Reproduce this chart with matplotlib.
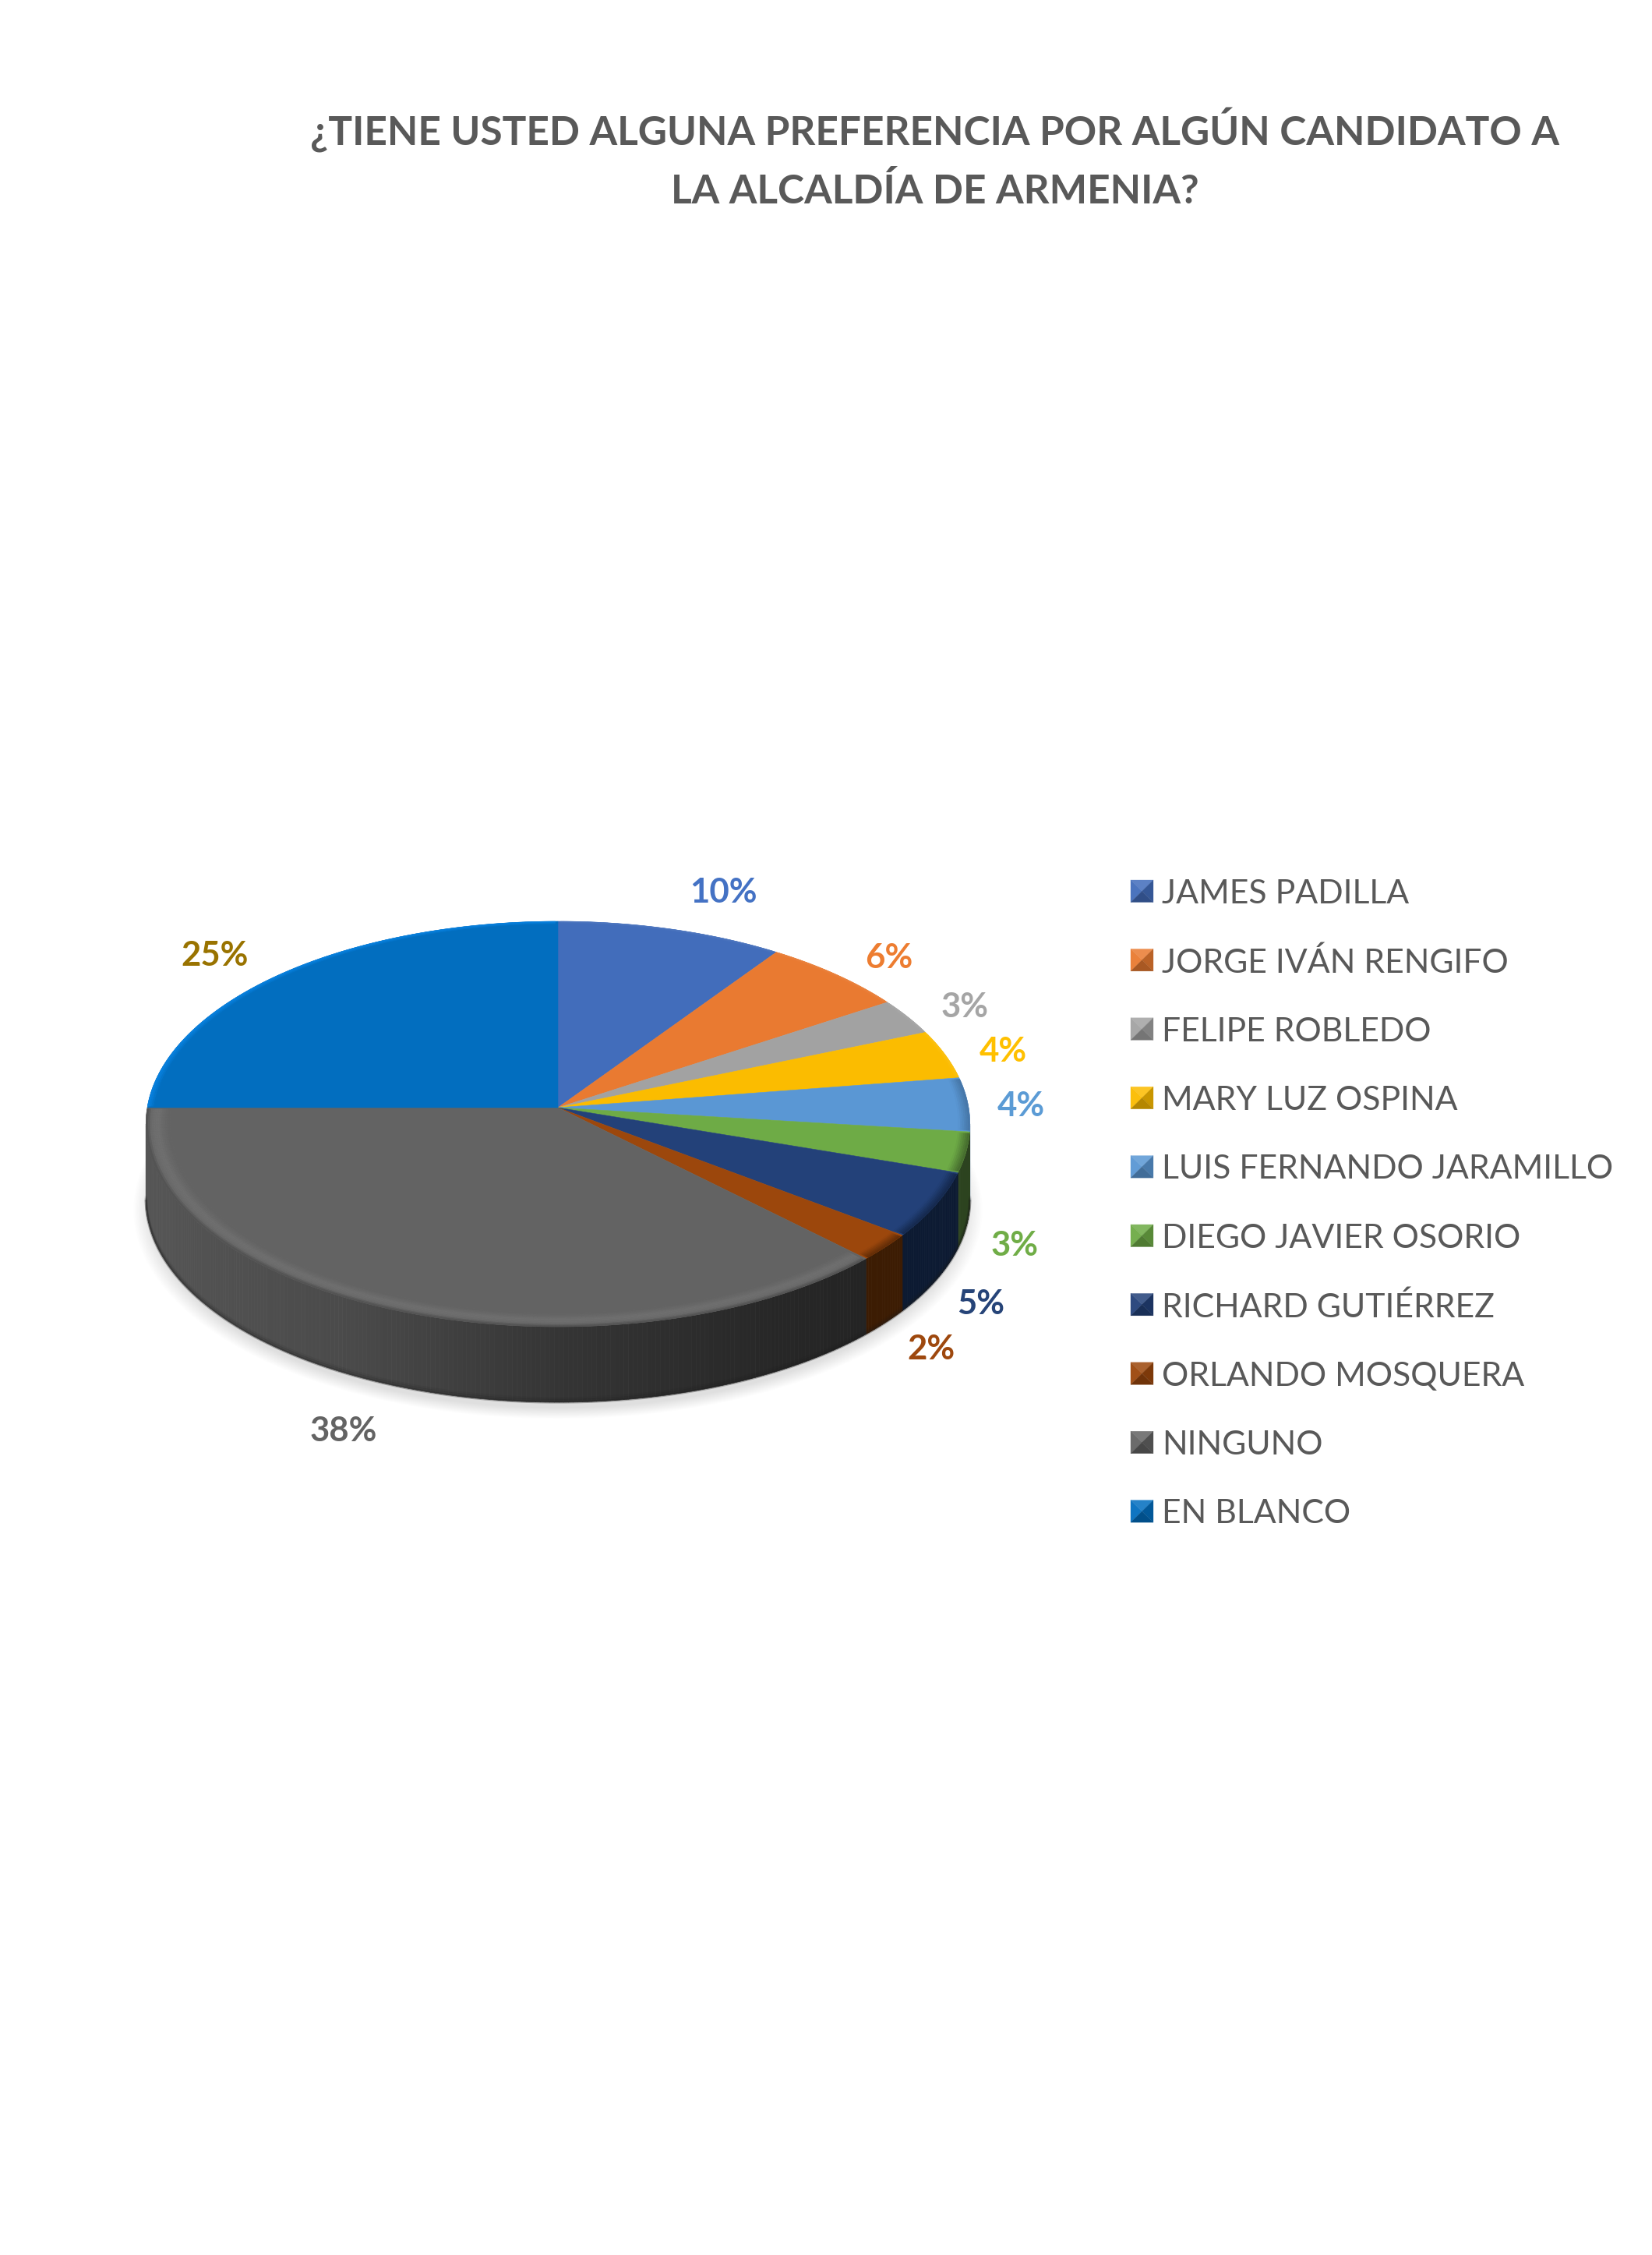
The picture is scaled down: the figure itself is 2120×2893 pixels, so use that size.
import numpy as np
import matplotlib
matplotlib.use("Agg")
import matplotlib.pyplot as plt
from matplotlib.collections import PolyCollection
from matplotlib.colors import to_rgb
from matplotlib.patches import Polygon

# values
candidates = ["JAMES PADILLA", "JORGE IVÁN RENGIFO", "FELIPE ROBLEDO", "MARY LUZ OSPINA",
              "LUIS FERNANDO JARAMILLO", "DIEGO JAVIER OSORIO", "RICHARD GUTIÉRREZ",
              "ORLANDO MOSQUERA", "NINGUNO", "EN BLANCO"]
shares = [9.6, 6.2, 2.9, 3.9, 4.3, 3.2, 5.2, 2.2, 37.5, 25.0]

top_colors = ["#426dbb", "#e97a31", "#a2a2a2", "#fbbc00", "#5a97d4",
              "#6eab46", "#234179", "#9c470c", "#636363", "#026ebf"]
wall_colors = ["#2b4778", "#8f4a1c", "#666666", "#9c7500", "#39618a",
               "#2c431f", "#0c1a32", "#3c1c03", "#3a3a3a", "#014a80"]
label_colors = ["#4472c4", "#ed7d31", "#a5a5a5", "#ffc000", "#5b9bd5",
                "#70ad47", "#264478", "#9e480e", "#636363", "#997300"]
label_pos = [(928, 1145), (1141, 1229), (1238, 1292), (1287, 1349), (1310, 1419),
             (1302, 1598), (1259, 1673), (1195, 1731), (441, 1836), (276, 1226)]

title_lines = ["¿TIENE USTED ALGUNA PREFERENCIA POR ALGÚN CANDIDATO A",
               "LA ALCALDÍA DE ARMENIA?"]
GREY_TEXT = "#595959"

# pie geometry, pixels
cx, cy = 716, 1421
a, b, k = 258.3, 527, 0.0808
depth = 97


def project(t, r=1.0, dz=0.0):
    # t is degrees clockwise from 12 o'clock, with a small perspective
    t = np.radians(t)
    xx = r * np.sin(t)
    yy = r * np.cos(t)
    w = 1 + k * yy
    return cx + b * xx / w, cy - a * yy / w + dz


def mix(c1, c2, f):
    c1, c2 = np.array(to_rgb(c1)), np.array(to_rgb(c2))
    return tuple(np.clip(c1 + (c2 - c1) * f, 0, 1))


def grey_wall(x):
    xs = [187, 450, 716, 1000, 1110]
    vs = [0x55, 0x4a, 0x35, 0x27, 0x24]
    v = np.interp(x, xs, vs) / 255
    return (v, v, v)


plt.rcParams["font.family"] = ["Lato", "DejaVu Sans"]
fig = plt.figure(figsize=(21.2, 28.93), dpi=100, facecolor="white")
ax = fig.add_axes([0, 0, 1, 1])
ax.set_xlim(0, 2120)
ax.set_ylim(2893, 0)
ax.axis("off")

for i, line in enumerate(title_lines):
    ax.text(1200, 187 + 74 * i, line, ha="center", va="baseline", fontsize=37,
            fontweight="bold", color=GREY_TEXT)

# soft shadow under the pie
ts = np.linspace(0, 360, 361)
for r in np.linspace(1.03, 0.985, 16):
    px, py = project(ts, r, depth + 12)
    ax.add_patch(Polygon(np.column_stack([px, py]), closed=True, fc="black", ec="none",
                         alpha=0.008, zorder=1))

edges = np.concatenate([[0], np.cumsum(shares)]) * 3.6
t_right = np.degrees(np.arccos(-k))
t_left = 360 - t_right

# wall
for i in range(len(shares)):
    t0, t1 = max(edges[i], t_right), min(edges[i + 1], t_left)
    if t1 <= t0:
        continue
    n = int(np.ceil((t1 - t0) / 0.6))
    tt = np.linspace(t0, t1, n + 1)
    x0, y0 = project(tt)
    x1, y1 = project(tt, 1.0, depth)
    quads = []
    cols = []
    for j in range(n):
        quads.append([(x0[j], y0[j]), (x0[j + 1], y0[j + 1]), (x1[j + 1], y1[j + 1]), (x1[j], y1[j])])
        if candidates[i] == "NINGUNO":
            cols.append(grey_wall((x0[j] + x0[j + 1]) / 2))
        else:
            cols.append(wall_colors[i])
    ax.add_collection(PolyCollection(quads, facecolors=cols, edgecolors=cols, linewidths=0.5, zorder=2))

# dark lower edge of the wall
tt = np.linspace(t_right, t_left, 300)
for off, al in [(0, 0.3), (2.5, 0.16), (5, 0.08)]:
    x1, y1 = project(tt, 1.0, depth - off)
    ax.plot(x1, y1, color="#1a1a1a", lw=2.4, alpha=al, zorder=3, solid_capstyle="butt")

# top of the pie
for i in range(len(shares)):
    tt = np.linspace(edges[i], edges[i + 1], max(int(edges[i + 1] - edges[i]) * 2, 6))
    px, py = project(tt)
    pts = np.column_stack([np.r_[cx, px], np.r_[cy, py]])
    ax.add_patch(Polygon(pts, closed=True, fc=top_colors[i], ec=top_colors[i], lw=0.4, zorder=4))

# bevel along the rim
rims = np.linspace(0.93, 1.0, 16)
for i in range(len(shares)):
    t0, t1 = edges[i], edges[i + 1]
    tt = np.linspace(t0 + 0.4, t1 - 0.4, max(int(t1 - t0) * 2, 6))
    quads = []
    cols = []
    front = t1 > t_right and t0 < t_left
    for j in range(len(rims) - 1):
        f = (j + 0.5) / (len(rims) - 1)
        if candidates[i] == "NINGUNO":
            c = mix(top_colors[i], "#6f6f6f", np.exp(-((f - 0.62) / 0.26) ** 2))
            if f > 0.84:
                c = mix(c, "#505050", (f - 0.84) / 0.16)
        elif front:
            c = mix(top_colors[i], wall_colors[i], max(0, f - 0.6) * 1.6)
        elif candidates[i] == "EN BLANCO":
            c = mix(top_colors[i], "#0a86e8", max(0, f - 0.75) * 3.5)
        else:
            c = mix(top_colors[i], "#ffffff", max(0, f - 0.85) * 0.5)
        for m in range(len(tt) - 1):
            x0, y0 = project(tt[m:m + 2], rims[j])
            x1, y1 = project(tt[m:m + 2], rims[j + 1])
            quads.append([(x0[0], y0[0]), (x0[1], y0[1]), (x1[1], y1[1]), (x1[0], y1[0])])
            cols.append(c)
    ax.add_collection(PolyCollection(quads, facecolors=cols, edgecolors=cols, linewidths=0.3, zorder=5))

# percentage labels
for v, c, (lx, ly) in zip(shares, label_colors, label_pos):
    ax.text(lx, ly, f"{v:.0f}%", ha="center", va="center", fontsize=31.5, fontweight="bold", color=c)

# legend with bevelled swatches
sx0, sx1 = 1451, 1480
for i, name in enumerate(candidates):
    y0 = 1129 + 88.4 * i
    y1 = y0 + 28.5
    mx, my = (sx0 + sx1) / 2, (y0 + y1) / 2
    base = top_colors[i]
    sides = [([(sx0, y0), (sx1, y0), (mx, my)], mix(base, "#ffffff", 0.14)),
             ([(sx0, y0), (sx0, y1), (mx, my)], mix(base, "#ffffff", 0.05)),
             ([(sx1, y0), (sx1, y1), (mx, my)], mix(base, "#000000", 0.2)),
             ([(sx0, y1), (sx1, y1), (mx, my)], mix(base, "#000000", 0.28))]
    for pts, c in sides:
        ax.add_patch(Polygon(pts, closed=True, fc=c, ec=c, lw=0.2, zorder=6))
    ax.text(1491, my, name, ha="left", va="center_baseline", fontsize=30.8, color=GREY_TEXT)

fig.savefig("out.png", dpi=100, facecolor="white")
